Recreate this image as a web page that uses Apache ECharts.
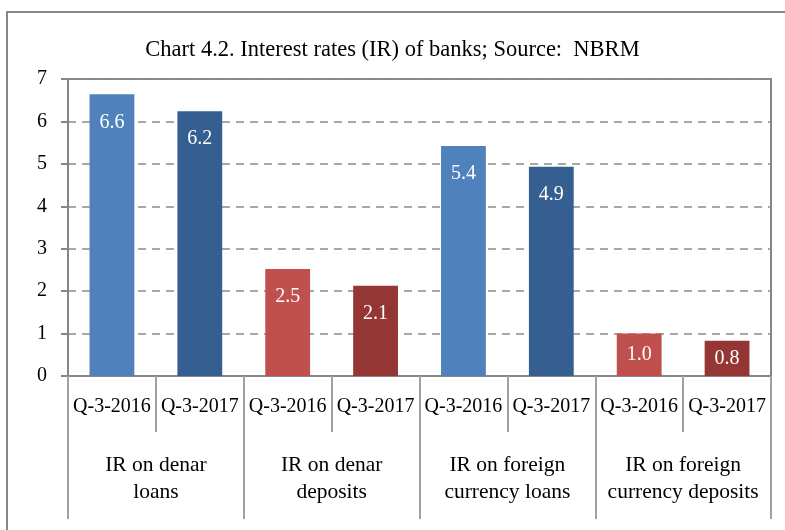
<!DOCTYPE html>
<html>
<head>
<meta charset="utf-8">
<script src="https://cdn.jsdelivr.net/npm/echarts@6/dist/echarts.min.js"></script>
<style>html,body{margin:0;padding:0;background:#fff}#c{width:785px;height:530px}</style>
</head>
<body>
<div id="c"></div>
<script>
var periods = ['Q-3-2016','Q-3-2017','Q-3-2016','Q-3-2017','Q-3-2016','Q-3-2017','Q-3-2016','Q-3-2017'];
var groups = ['IR on denar\nloans','IR on denar\ndeposits','IR on foreign\ncurrency loans','IR on foreign\ncurrency deposits'];
var values = [6.64, 6.24, 2.52, 2.13, 5.42, 4.93, 1.0, 0.83];
var barColors = ['#4F81BD','#365F91','#C0504D','#943634','#4F81BD','#365F91','#C0504D','#943634'];
var yTicks = [0,1,2,3,4,5,6,7];

var FONT = 'Liberation Serif';
var chart = echarts.init(document.getElementById('c'));
var data = values.map(function(v,i){
  var d = {value:v, itemStyle:{color:barColors[i]}};
  if (v < 1.5) d.label = {position:'inside'};
  return d;
});
chart.setOption({
  animation:false,
  title:{text:'Chart 4.2. Interest rates (IR) of banks; Source:  NBRM', left:'center', top:34,
    textStyle:{fontFamily:FONT, fontSize:22.5, fontWeight:'normal', color:'#000'}},
  graphic:[{type:'rect', shape:{x:7,y:12,width:820,height:600}, style:{fill:'none', stroke:'#878787', lineWidth:2}, silent:true}],
  grid:{left:68, right:14, top:79, bottom:154, show:true, borderColor:'#868686', borderWidth:2},
  yAxis:{type:'value', min:yTicks[0], max:yTicks[yTicks.length-1], interval:1,
    axisLine:{show:true, lineStyle:{color:'#868686', width:2}},
    axisTick:{show:true, length:7, lineStyle:{color:'#868686', width:2}},
    axisLabel:{margin:21, fontFamily:FONT, fontSize:20, color:'#000'},
    splitLine:{show:true, lineStyle:{color:'#8c8c8c', width:1.5, type:[8,6]}}},
  xAxis:[
    {type:'category', data:periods, position:'bottom',
      axisLine:{show:true, lineStyle:{color:'#868686', width:2}},
      axisTick:{show:true, interval:0, length:56, lineStyle:{color:'#a0a0a0', width:2}},
      axisLabel:{interval:0, margin:21, fontFamily:FONT, fontSize:20, color:'#000'}},
    {type:'category', data:groups, position:'bottom', offset:0,
      axisLine:{show:false},
      axisTick:{show:true, interval:0, length:143, lineStyle:{color:'#a0a0a0', width:2}},
      axisLabel:{interval:0, margin:76, fontFamily:FONT, fontSize:21.5, lineHeight:27, color:'#000'}}
  ],
  series:[{type:'bar', xAxisIndex:0, data:data, barWidth:'51%',
    label:{show:true, position:'insideTop', distance:18, color:'#fff', fontFamily:FONT, fontSize:20,
      formatter:function(p){return p.value.toFixed(1);}}}]
});
</script>
</body>
</html>
